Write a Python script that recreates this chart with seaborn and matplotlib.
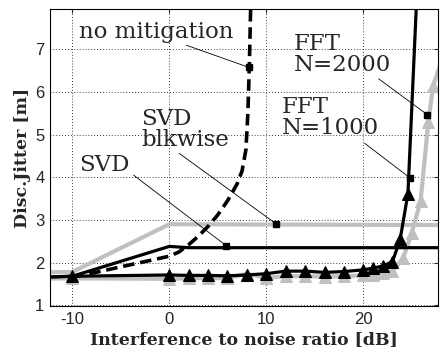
import matplotlib
matplotlib.use("Agg")
import matplotlib.pyplot as plt
import seaborn as sns
import pandas as pd

# interference to noise ratio [dB] and jitter [m]
fft1000_x = [-14, -10, 0, 2, 4, 6, 8, 10, 12, 14, 16, 18, 20, 21, 22, 23, 23.8, 24.6, 25.6]
fft1000_y = [1.65, 1.68, 1.71, 1.70, 1.70, 1.69, 1.71, 1.74, 1.80, 1.80, 1.77, 1.79, 1.83, 1.87, 1.92, 2.02, 2.55, 3.62, 8.7]

fft2000_x = [-14, -10, 0, 2, 4, 6, 8, 10, 12, 14, 16, 18, 20, 21, 22, 23, 24.1, 25.0, 25.9, 26.7, 27.2, 28.6]
fft2000_y = [1.62, 1.63, 1.62, 1.63, 1.64, 1.63, 1.74, 1.64, 1.68, 1.68, 1.67, 1.68, 1.70, 1.72, 1.75, 1.80, 2.10, 2.70, 3.44, 5.30, 6.15, 7.10]

svd_x = [-14, -10, 0, 2, 30]
svd_y = [1.65, 1.68, 2.38, 2.35, 2.35]

svd_blk_x = [-14, -10, 0, 30]
svd_blk_y = [1.77, 1.78, 2.90, 2.88]

nomit_x = [-10, -8, -6, -4, -2, 0, 1, 2, 3, 4, 5, 6, 7, 7.5, 7.9, 8.1, 8.25, 8.45]
nomit_y = [1.66, 1.75, 1.85, 1.95, 2.05, 2.15, 2.25, 2.42, 2.62, 2.85, 3.12, 3.45, 3.85, 4.15, 4.65, 5.5, 6.6, 8.6]

labels = ["no mitigation", "SVD\nblkwise", "SVD", "FFT\nN=2000", "FFT\nN=1000"]
label_xy = [(-9.3, 7.4), (-2.9, 5.13), (-9.3, 4.3), (12.8, 6.88), (11.6, 5.4)]
line_from = [(1.5, 7.12), (0.8, 4.6), (-3.9, 4.09), (21.35, 6.35), (19.9, 4.84)]
line_to = [(8.2, 6.58), (11.0, 2.91), (5.85, 2.4), (26.6, 5.47), (24.85, 3.98)]

sns.set_style("white")
plt.rcParams["font.family"] = ["Liberation Sans", "DejaVu Sans"]
plt.rcParams["axes.unicode_minus"] = False

fig, ax = plt.subplots(figsize=(4.42, 3.58), dpi=100)
fig.subplots_adjust(left=0.113, right=0.991, bottom=0.145, top=0.975)

gray = "#c0c0c0"
sns.lineplot(x=svd_blk_x, y=svd_blk_y, ax=ax, color=gray, lw=3.0, estimator=None, sort=False)
sns.lineplot(x=fft2000_x, y=fft2000_y, ax=ax, color=gray, lw=3.0, marker="^", markersize=8,
             markeredgecolor=gray, estimator=None, sort=False)
sns.lineplot(x=svd_x, y=svd_y, ax=ax, color="black", lw=2.3, estimator=None, sort=False)
sns.lineplot(x=nomit_x, y=nomit_y, ax=ax, color="black", lw=2.6, linestyle=(0, (3.2, 1.6)),
             estimator=None, sort=False)
sns.lineplot(x=fft1000_x, y=fft1000_y, ax=ax, color="black", lw=2.3, marker="^", markersize=8,
             markeredgecolor="black", estimator=None, sort=False)

for txt, pos, p0, p1 in zip(labels, label_xy, line_from, line_to):
    ax.text(pos[0], pos[1], txt, family="DejaVu Serif", fontsize=16.5, ha="left", va="center",
            linespacing=0.95)
    ax.annotate("", xy=p1, xytext=p0, arrowprops=dict(arrowstyle="-", lw=0.6, color="black"))
    ax.plot(p1[0], p1[1], marker="s", color="black", markersize=4)

ax.set_xlim(-12.3, 27.7)
ax.set_ylim(0.98, 7.95)
ax.set_xticks([-10, 0, 10, 20])
ax.set_yticks([1, 2, 3, 4, 5, 6, 7])
ax.grid(True, color="black", linestyle=(0, (1, 2.5)), lw=0.6)
ax.tick_params(direction="in", length=3, labelsize=12, top=True, right=True, pad=4)
for sp in ax.spines.values():
    sp.set_color("black")
    sp.set_linewidth(0.8)

ax.set_xlabel("Interference to noise ratio [dB]", family="DejaVu Serif", weight="bold",
              fontsize=12.5, labelpad=3)
ax.set_ylabel("Disc.Jitter [m]", family="DejaVu Serif", weight="bold", fontsize=12.5, labelpad=3)

fig.savefig("out.png", dpi=100)
